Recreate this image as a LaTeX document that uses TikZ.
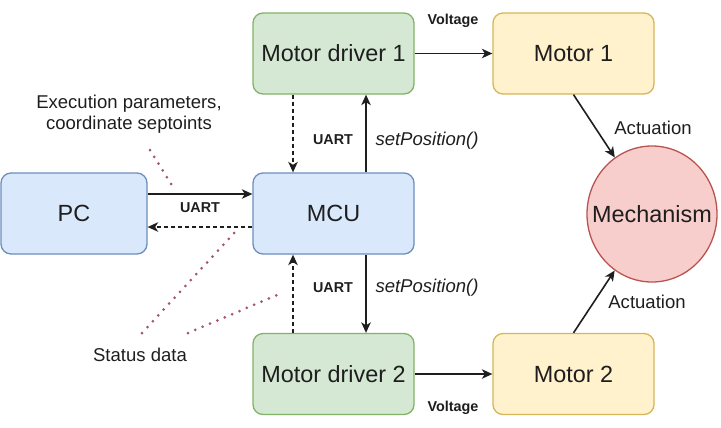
\documentclass[tikz,border=0pt]{standalone}
\usepackage{fontspec}
\setmainfont{Liberation Sans}
\usetikzlibrary{arrows.meta,shapes.geometric}
\definecolor{bluefill}{HTML}{DAE8FC}\definecolor{bluedraw}{HTML}{6C8EBF}
\definecolor{greenfill}{HTML}{D5E8D4}\definecolor{greendraw}{HTML}{82B366}
\definecolor{yellowfill}{HTML}{FFF2CC}\definecolor{yellowdraw}{HTML}{D6B656}
\definecolor{redfill}{HTML}{F8CECC}\definecolor{reddraw}{HTML}{B85450}
\definecolor{dotred}{HTML}{A4566A}
\definecolor{ink}{HTML}{1E1E1E}
\tikzset{
  blk/.style={rounded corners=10bp, line width=1.3bp, minimum width=161bp, minimum height=81bp,
    inner sep=0pt, font=\fontsize{23.5}{28}\selectfont, text=ink},
  bluebox/.style={blk, fill=bluefill, draw=bluedraw},
  greenbox/.style={blk, fill=greenfill, draw=greendraw},
  yellowbox/.style={blk, fill=yellowfill, draw=yellowdraw},
  arr/.style={draw=ink, line width=1.6bp, -{Stealth[length=10.5bp,width=9.5bp,inset=3bp]}},
  dasharr/.style={arr, dash pattern=on 4bp off 3bp},
  lblb/.style={font=\fontsize{14.4}{17}\bfseries\selectfont, text=ink, inner sep=0pt},
  lbl/.style={font=\fontsize{18.6}{22}\selectfont, text=ink, inner sep=0pt},
  lbli/.style={font=\fontsize{18.6}{22}\itshape\selectfont, text=ink, inner sep=0pt},
  dotline/.style={draw=dotred, line width=3bp, line cap=round, dash pattern=on 0bp off 8bp},
}
\begin{document}
\begin{tikzpicture}[x=1bp,y=-1bp]
\useasboundingbox (0,0) rectangle (721,427);
\node[greenbox] (md1) at (333.5,53.5) {Motor driver 1};
\node[yellowbox] (m1) at (573.5,53.5) {Motor 1};
\node[bluebox] (mcu) at (333.5,213.5) {MCU};
\node[bluebox, minimum width=146bp] (pc) at (74,213.5) {PC};
\node[greenbox] (md2) at (333.5,374) {Motor driver 2};
\node[yellowbox] (m2) at (573.5,374) {Motor 2};
\node[ellipse, fill=redfill, draw=reddraw, line width=1.3bp, minimum width=130bp, minimum height=136bp,
  inner sep=0pt] (mech) at (652,214) {};
\node[font=\fontsize{23.5}{28}\selectfont, text=ink, inner sep=0pt] (mechtext) at (mech.center) {Mechanism};

% connectors
\draw[arr] ([yshift=19.5bp]pc.east) -- ([yshift=19.5bp]mcu.west);
\draw[dasharr] ([yshift=-13.5bp]mcu.west) -- ([yshift=-13.5bp]pc.east);
\draw[arr] ([xshift=32.5bp]mcu.north) -- ([xshift=32.5bp]md1.south);
\draw[dasharr] ([xshift=-40.5bp]md1.south) -- ([xshift=-40.5bp]mcu.north);
\draw[arr] ([xshift=32.5bp]mcu.south) -- ([xshift=32.5bp]md2.north);
\draw[dasharr] ([xshift=-40.5bp]md2.north) -- ([xshift=-40.5bp]mcu.south);
\draw[arr] (md1.east) -- (m1.west);
\draw[arr] (md2.east) -- (m2.west);
\draw[arr] (m1.south) -- (mech);
\draw[arr] (m2.north) -- (mech);

% labels
\node[lblb] (v1) at (453,21) {Voltage};
\node[lblb] (v2) at (453,408) {Voltage};
\node[lblb] (u1) at (333,140) {UART};
\node[lblb] (u2) at (333,288) {UART};
\node[lblb] (u3) at (200,208) {UART};
\node[lbli] (s1) at (427,141) {setPosition()};
\node[lbli] (s2) at (427,288) {setPosition()};
\node[lbl] (a1) at (653,128) {Actuation};
\node[lbl] (a2) at (647,302) {Actuation};
\node[lbl, align=center] (exec) at (129,114) {Execution parameters,\\[-1bp]coordinate septoints};
\node[lbl] (status) at (140,355) {Status data};

% dotted pointers
\coordinate (e1) at (150,150); \coordinate (e2) at (173,187);
\coordinate (d1) at (142,333); \coordinate (d2) at (237,230);
\coordinate (f1) at (188,333); \coordinate (f2) at (277,295);
\draw[dotline] (e1) -- (e2);
\draw[dotline] (d1) -- (d2);
\draw[dotline] (f1) -- (f2);
\end{tikzpicture}
\end{document}
